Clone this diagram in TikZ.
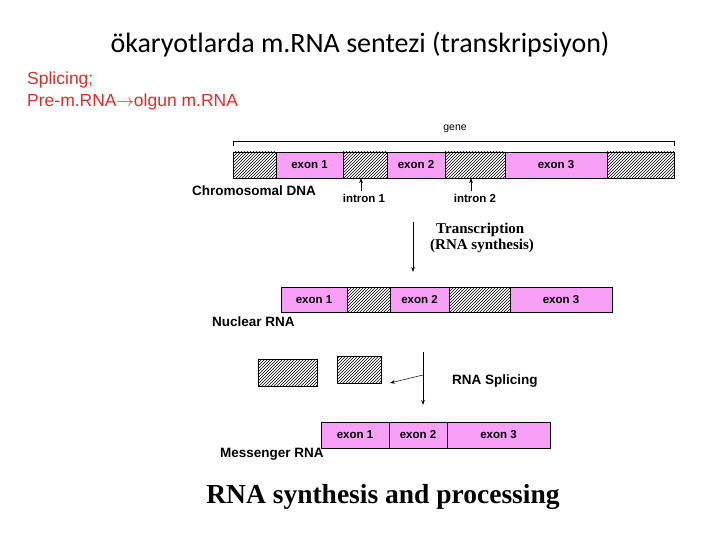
\documentclass[tikz,border=0pt]{standalone}
\usepackage{fontspec}
\setmainfont{Liberation Sans}
\newfontfamily\calib{Carlito}
\newfontfamily\tms{Liberation Serif}
\usetikzlibrary{patterns,arrows.meta}
\definecolor{exonpink}{RGB}{248,160,248}
\definecolor{redtxt}{RGB}{220,45,45}
\begin{document}
\begin{tikzpicture}[x=1pt,y=-1pt,
  ex/.style={draw=black,fill=exonpink},
  hat/.style={draw=black,pattern=north east lines,pattern color=black},
  lab/.style={font=\fontsize{11.5}{12}\selectfont\bfseries,inner sep=0},
  big/.style={font=\fontsize{13.5}{14}\selectfont\bfseries,inner sep=0,anchor=west},
  arr/.style={-{Stealth[length=5pt,width=3.5pt]},line width=0.8pt}]
\useasboundingbox (0,0) rectangle (720,540);
\node[font=\calib\fontsize{28}{32}\selectfont] (title) at (360,45) {ökaryotlarda m.RNA sentezi (transkripsiyon)};
\node[anchor=west,align=left,text=redtxt,font=\fontsize{17.5}{22}\selectfont,inner sep=0] (red) at (27,91) {Splicing;\\Pre-m.RNA$\rightarrow$olgun m.RNA};
% gene bracket
\draw (233,146) -- (233,141) -- (674,141) -- (674,146);
\node[lab,font=\fontsize{10.5}{11}\selectfont] (gene) at (455,129) {gene};
% DNA row
\path[hat] (233,152) rectangle (276,178);
\node[ex,minimum width=67pt,minimum height=26pt,inner sep=0] (e1) at (309.5,165) {};
\path[hat] (343,152) rectangle (387,178);
\node[ex,minimum width=58pt,minimum height=26pt,inner sep=0] (e2) at (416,165) {};
\path[hat] (445,152) rectangle (505,178);
\node[ex,minimum width=102pt,minimum height=26pt,inner sep=0] (e3) at (556,165) {};
\path[hat] (607,152) rectangle (674,178);
\node[lab] at (e1) {exon 1};\node[lab] at (e2) {exon 2};\node[lab] at (e3) {exon 3};
\node[big] (cdna) at (192,191) {Chromosomal DNA};
\node[lab] (i1) at (364,198) {intron 1};
\node[lab] (i2) at (475,198) {intron 2};
\coordinate (i1t) at (361,178);\coordinate (i2t) at (471,178);
\draw[arr,line width=0.6pt] (361,191) -- (i1t);
\draw[arr,line width=0.6pt] (471,191) -- (i2t);
% transcription
\coordinate (ta) at (413,222);\coordinate (tb) at (413,272);
\draw[arr] (ta) -- (tb);
\node[anchor=west,font=\tms\bfseries\fontsize{15}{16}\selectfont,inner sep=0] (tr) at (436,230) {Transcription};
\node[anchor=west,font=\tms\bfseries\fontsize{15}{16}\selectfont,inner sep=0] (rs) at (430,246) {(RNA synthesis)};
% nuclear RNA
\node[ex,minimum width=66pt,minimum height=25pt,inner sep=0] (n1) at (314,299.5) {};
\path[hat] (347,287) rectangle (390,312);
\node[ex,minimum width=59pt,minimum height=25pt,inner sep=0] (n2) at (419.5,299.5) {};
\path[hat] (449,287) rectangle (510,312);
\node[ex,minimum width=102pt,minimum height=25pt,inner sep=0] (n3) at (561,299.5) {};
\node[lab] at (n1) {exon 1};\node[lab] at (n2) {exon 2};\node[lab] at (n3) {exon 3};
\node[big] (nrna) at (212,322) {Nuclear RNA};
% splicing
\path[hat] (258,359) rectangle (317,386);
\path[hat] (337,356) rectangle (381,383);
\coordinate (sa) at (423,352);\coordinate (sb) at (423,405);
\draw[arr,line width=0.6pt] (sa) -- (sb);
\coordinate (da) at (423,375);\coordinate (db) at (390,383);
\draw[arr,line width=0.5pt] (da) -- (db);
\node[big] (spl) at (452,381) {RNA Splicing};
% mRNA
\node[ex,minimum width=68pt,minimum height=26pt,inner sep=0] (m1) at (355,435) {};
\node[ex,minimum width=58pt,minimum height=26pt,inner sep=0] (m2) at (418,435) {};
\node[ex,minimum width=103pt,minimum height=26pt,inner sep=0] (m3) at (498.5,435) {};
\node[lab] at (m1) {exon 1};\node[lab] at (m2) {exon 2};\node[lab] at (m3) {exon 3};
\node[big] (mrna) at (220,454) {Messenger RNA};
\node[font=\tms\bfseries\fontsize{27.5}{30}\selectfont,inner sep=0] (bt) at (383,497) {RNA synthesis and processing};
\end{tikzpicture}
\end{document}
